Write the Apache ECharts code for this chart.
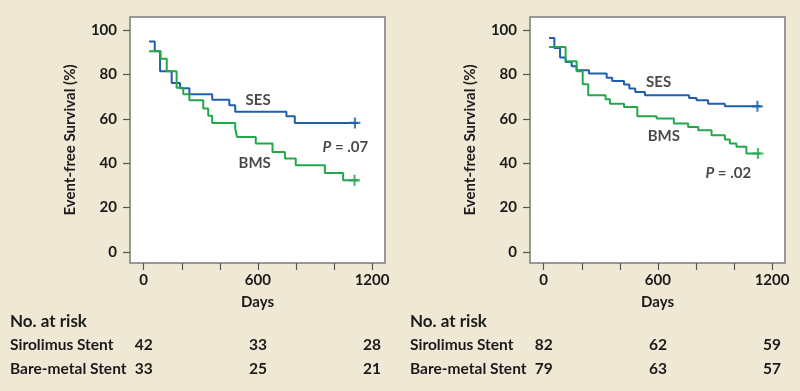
<!DOCTYPE html>
<html>
<head>
<meta charset="utf-8">
<script src="https://cdn.jsdelivr.net/npm/echarts@6/dist/echarts.min.js"></script>
<style>
html,body{margin:0;padding:0;background:#EFE8D4;}
#chart{width:800px;height:391px;}
</style>
</head>
<body>
<div id="chart"></div>
<script>
// ---- Data ----
// Left panel
const leftSesDays = [28, 58, 86, 147, 191, 240, 360, 450, 481, 750, 794, 1126];
const leftSesVals = [94.9, 90.5, 81.5, 76.2, 73.9, 71.1, 68.7, 66.2, 63.2, 61.2, 58.2, 58.2];
const leftBmsDays = [28, 89, 121, 173, 208, 240, 313, 339, 360, 481, 490, 589, 677, 742, 799, 952, 1048, 1126];
const leftBmsVals = [90.5, 87.2, 81.5, 74.1, 71.1, 68.4, 64.7, 61.4, 58.2, 55.6, 51.9, 48.9, 45.1, 42.1, 39.1, 35.6, 32.3, 32.3];
const leftCensorSes = [1110, 58.2];
const leftCensorBms = [1108, 32.3];
const leftPText = 'P = .07';
// Right panel
const rightSesDays = [28, 56, 86, 115, 147, 173, 238, 331, 360, 422, 450, 481, 532, 764, 803, 864, 952, 1140];
const rightSesVals = [96.5, 92.0, 87.7, 85.7, 83.8, 82.0, 80.5, 78.6, 77.1, 75.5, 73.7, 72.2, 70.7, 69.5, 68.4, 66.9, 65.7, 65.7];
const rightBmsDays = [28, 115, 173, 205, 234, 325, 348, 422, 492, 593, 684, 759, 812, 882, 952, 978, 1013, 1065, 1140];
const rightBmsVals = [92.5, 86.0, 81.5, 75.6, 70.7, 68.9, 66.9, 65.4, 61.2, 60.2, 57.9, 56.4, 54.9, 52.6, 50.7, 48.9, 47.4, 44.4, 44.4];
const rightCensorSes = [1123, 65.7];
const rightCensorBms = [1126, 44.4];
const rightPText = 'P = .02';
// Annotation anchor points [day, value]
const leftSesLabel = [601, 68.7];
const leftBmsLabel = [583, 40.0];
const leftPLabel = [1060, 47.4];
const rightSesLabel = [604, 76.7];
const rightBmsLabel = [631, 52.3];
const rightPLabel = [970, 35.5];
// Axes
const xTickValues = [0, 200, 400, 600, 800, 1000, 1200];
const xLabelValues = [0, 600, 1200];
const yTickValues = [0, 20, 40, 60, 80, 100];
// Number at risk
const riskDays = [0, 600, 1200];
const riskRowNames = ['Sirolimus Stent', 'Bare-metal Stent'];
const leftRiskSes = [42, 33, 28];
const leftRiskBms = [33, 25, 21];
const rightRiskSes = [82, 62, 59];
const rightRiskBms = [79, 63, 57];

// ---- Styles ----
const BLUE = '#1f5fae';
const GREEN = '#22a84a';
const FONT = 'Lato';
const TXT = '#1a1a1a';
const plusPath = 'path://M4,0h2v4h4v2h-4v4h-2v-4h-4v-2h4z';

function zip(a, b) { return a.map((d, i) => [d, b[i]]); }

function axesFor(i) {
  return {
    x: {
      type: 'value', gridIndex: i, min: -72, max: 1268,
      axisLine: { show: false, onZero: false },
      splitLine: { show: false },
      axisTick: { show: true, length: 7, customValues: xTickValues, lineStyle: { color: '#555', width: 1.2 } },
      axisLabel: { customValues: xLabelValues, margin: 10, fontSize: 15, fontWeight: 'bold', color: TXT, fontFamily: FONT,
        formatter: function (v) { return String(v); } },
      name: 'Days', nameLocation: 'middle', nameGap: 32,
      nameTextStyle: { fontSize: 15, fontWeight: 'bold', color: TXT, fontFamily: FONT }
    },
    y: {
      type: 'value', gridIndex: i, min: -5, max: 106,
      axisLine: { show: false, onZero: false },
      splitLine: { show: false },
      axisTick: { show: true, length: 7, customValues: yTickValues, lineStyle: { color: '#555', width: 1.2 } },
      axisLabel: { customValues: yTickValues, margin: 13, fontSize: 15, fontWeight: 'bold', color: TXT, fontFamily: FONT,
        formatter: function (v) { return String(v); } },
      name: 'Event-free Survival (%)', nameLocation: 'middle', nameGap: 52,
      nameTextStyle: { fontSize: 15, fontWeight: 'bold', color: TXT, fontFamily: FONT }
    }
  };
}

function lineSeries(i, days, vals, color) {
  return {
    type: 'line', xAxisIndex: i, yAxisIndex: i, step: 'end',
    data: zip(days, vals), symbol: 'none', silent: true,
    lineStyle: { color: color, width: 2 }, z: 3
  };
}
function censorSeries(i, pt, color) {
  return {
    type: 'scatter', xAxisIndex: i, yAxisIndex: i, data: [pt],
    symbol: plusPath, symbolSize: 11, itemStyle: { color: color }, silent: true, z: 4
  };
}
function labelSeries(i, pts, texts) {
  return {
    type: 'scatter', xAxisIndex: i, yAxisIndex: i,
    data: pts.map((p, k) => ({ value: p, name: texts[k] })),
    symbolSize: 1, itemStyle: { color: 'rgba(0,0,0,0)' }, silent: true, z: 5,
    label: {
      show: true, position: 'inside', color: TXT, fontFamily: FONT, fontSize: 15, fontWeight: 'bold',
      formatter: function (p) {
        if (p.name.startsWith('P')) return '{i|P} = ' + p.name.split('= ')[1];
        return p.name;
      },
      rich: { i: { fontStyle: 'italic', fontFamily: FONT, fontSize: 15, fontWeight: 'bold', color: TXT } }
    }
  };
}

const a0 = axesFor(0), a1 = axesFor(1);
const chart = echarts.init(document.getElementById('chart'), null, { renderer: 'canvas' });
const option = {
  backgroundColor: '#EFE8D4',
  animation: false,
  textStyle: { fontFamily: FONT },
  grid: [
    { left: 130, top: 17, width: 255, height: 246, show: true, backgroundColor: '#ffffff', borderColor: '#7a7a7a', borderWidth: 1.5, outerBoundsMode: 'none' },
    { left: 530, top: 17, width: 255, height: 246, show: true, backgroundColor: '#ffffff', borderColor: '#7a7a7a', borderWidth: 1.5, outerBoundsMode: 'none' }
  ],
  xAxis: [a0.x, a1.x],
  yAxis: [a0.y, a1.y],
  series: [
    lineSeries(0, leftSesDays, leftSesVals, BLUE),
    lineSeries(0, leftBmsDays, leftBmsVals, GREEN),
    censorSeries(0, leftCensorSes, BLUE),
    censorSeries(0, leftCensorBms, GREEN),
    labelSeries(0, [leftSesLabel, leftBmsLabel, leftPLabel], ['SES', 'BMS', leftPText]),
    lineSeries(1, rightSesDays, rightSesVals, BLUE),
    lineSeries(1, rightBmsDays, rightBmsVals, GREEN),
    censorSeries(1, rightCensorSes, BLUE),
    censorSeries(1, rightCensorBms, GREEN),
    labelSeries(1, [rightSesLabel, rightBmsLabel, rightPLabel], ['SES', 'BMS', rightPText])
  ]
};
chart.setOption(option);

// Number-at-risk table, columns aligned to the day axis
const rowY = [322, 345, 369];
const tStyle = { fontFamily: FONT, fontSize: 15.5, fontWeight: 'bold', fill: TXT };
const graphics = [];
[[0, 10, leftRiskSes, leftRiskBms], [1, 410, rightRiskSes, rightRiskBms]].forEach(([ai, lx, ses, bms]) => {
  graphics.push({ type: 'text', x: lx, y: rowY[0], style: Object.assign({}, tStyle, { text: 'No. at risk', fontSize: 17, verticalAlign: 'middle' }) });
  [ses, bms].forEach((row, r) => {
    graphics.push({ type: 'text', x: lx, y: rowY[r + 1], style: Object.assign({}, tStyle, { text: riskRowNames[r], verticalAlign: 'middle' }) });
    row.forEach((n, k) => {
      const px = chart.convertToPixel({ xAxisIndex: ai }, riskDays[k]);
      graphics.push({ type: 'text', x: px, y: rowY[r + 1], style: Object.assign({}, tStyle, { text: String(n), align: 'center', verticalAlign: 'middle' }) });
    });
  });
});
chart.setOption({ graphic: graphics });
</script>
</body>
</html>
